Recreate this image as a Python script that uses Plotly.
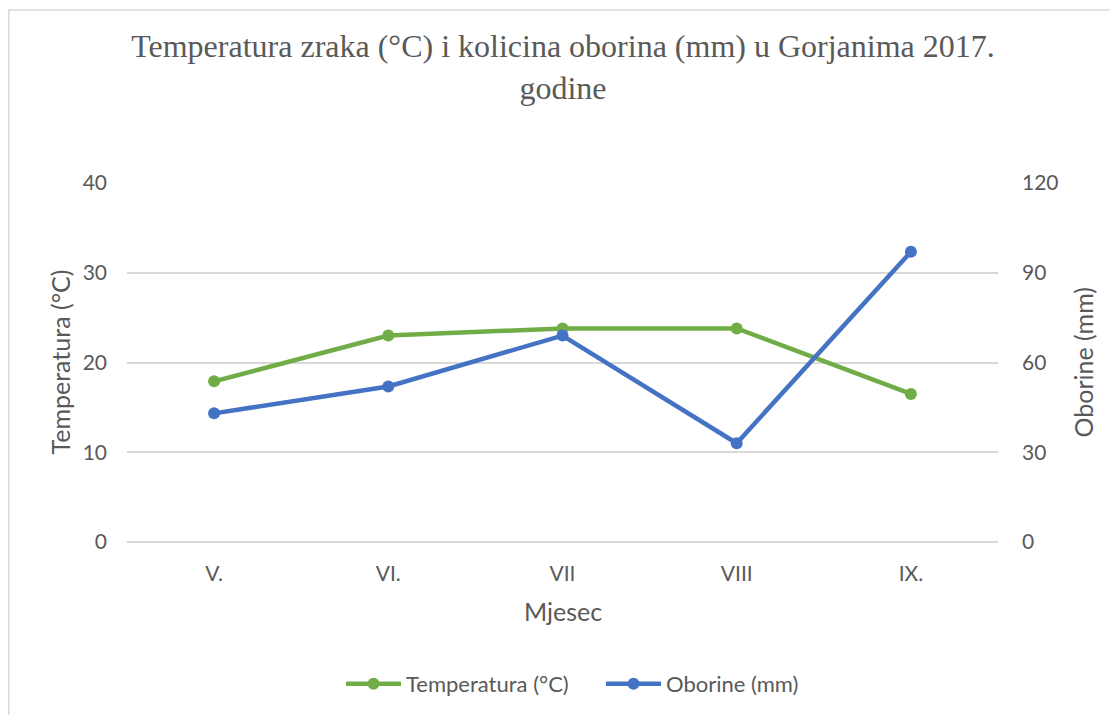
import plotly.graph_objects as go

months = ["V.", "VI.", "VII", "VIII", "IX."]
temperatura = [17.9, 23.0, 23.8, 23.8, 16.5]
oborine = [43, 52, 69, 33, 97]

left_ticks = [0, 10, 20, 30, 40]
right_ticks = [0, 30, 60, 90, 120]

TXT = "#595959"
GRID = "#d9d9d9"
FONT = "Lato, 'Open Sans', sans-serif"

# page body has an 8px margin, so the figure is 8px smaller and margins shifted
W, H = 1110, 707
L, R, T, B = 119, 120, 175, 173
PW = W - L - R
PH = H - T - B

fig = go.Figure()
fig.add_trace(go.Scatter(
    x=months, y=temperatura, name="Temperatura (°C)", mode="lines+markers",
    line=dict(color="#70AD47", width=4.5), marker=dict(size=12, color="#70AD47"),
    yaxis="y"))
fig.add_trace(go.Scatter(
    x=months, y=oborine, name="Oborine (mm)", mode="lines+markers",
    line=dict(color="#4472C4", width=4.5), marker=dict(size=12, color="#4472C4"),
    yaxis="y2"))

fig.update_layout(
    width=W, height=H,
    margin=dict(l=L, r=R, t=T, b=B, autoexpand=False),
    paper_bgcolor="white", plot_bgcolor="white",
    font=dict(family=FONT, color=TXT, size=21),
    title=dict(
        text="Temperatura zraka (°C) i kolicina oborina (mm) u Gorjanima 2017.<br>godine",
        x=0.5, xanchor="center", y=1 - 49 / H, yanchor="middle",
        font=dict(family="'Liberation Serif', 'Times New Roman', serif", size=32, color=TXT)),
    xaxis=dict(
        type="category", range=[-0.5, 4.5], showgrid=False, zeroline=False, showline=False,
        tickfont=dict(size=21, color=TXT), ticks="", ticklabelstandoff=17, automargin=False),
    yaxis=dict(
        range=[0, 40], tickvals=left_ticks, showgrid=True, gridcolor=GRID, gridwidth=1.5,
        zeroline=True, zerolinecolor=GRID, zerolinewidth=1.5, showline=False, ticks="",
        ticklabelstandoff=19, tickfont=dict(size=21, color=TXT), automargin=False),
    yaxis2=dict(
        range=[0, 120], tickvals=right_ticks, overlaying="y", side="right",
        showgrid=False, zeroline=False, showline=False, ticks="", ticklabelstandoff=23,
        tickfont=dict(size=21, color=TXT), automargin=False),
    legend=dict(orientation="h", x=(333 - L) / PW, xanchor="left", y=(534 - 676) / PH,
                yanchor="middle", font=dict(size=22, color=TXT), itemwidth=55,
                entrywidth=190, entrywidthmode="pixels"),
    showlegend=True,
)

fig.add_annotation(text="Mjesec", xref="paper", yref="paper", x=0.5, y=(534 - 603) / PH,
                   showarrow=False, xanchor="center", yanchor="middle",
                   font=dict(size=25, color=TXT))
fig.add_annotation(text="Temperatura (°C)", xref="paper", yref="paper", x=(51 - L) / PW, y=0.5,
                   showarrow=False, textangle=-90, xanchor="center", yanchor="middle",
                   font=dict(size=25, color=TXT))
fig.add_annotation(text="Oborine (mm)", xref="paper", yref="paper", x=(1074 - L) / PW, y=0.5,
                   showarrow=False, textangle=-90, xanchor="center", yanchor="middle",
                   font=dict(size=25, color=TXT))

fig.add_shape(type="rect", xref="paper", yref="paper",
              x0=(0.8 - L) / PW, x1=1.3, y0=-0.7, y1=(534 - 2) / PH,
              line=dict(color=GRID, width=1.5), fillcolor="rgba(0,0,0,0)", layer="below")

fig.write_html("out.html")
